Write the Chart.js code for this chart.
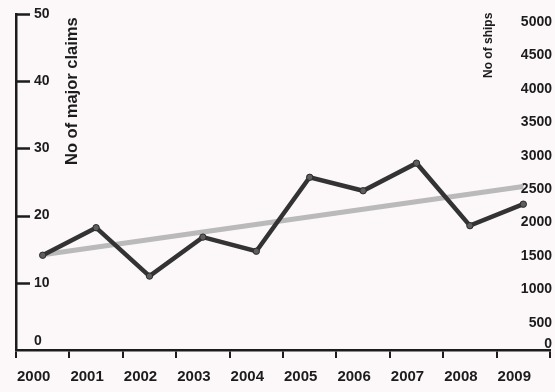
<!DOCTYPE html>
<html>
<head>
<meta charset="utf-8">
<script src="https://cdn.jsdelivr.net/npm/chart.js@4"></script>
<style>
  html, body { margin: 0; padding: 0; background: #fcf8f9; }
  #c { display: block; }
</style>
</head>
<body>
<canvas id="c" width="555" height="392"></canvas>
<script>
// Years on the horizontal axis
const years = ['2000', '2001', '2002', '2003', '2004', '2005', '2006', '2007', '2008', '2009'];
// Number of major claims per year (left axis)
const majorClaims = [14.1, 18.2, 11.0, 16.8, 14.7, 25.7, 23.7, 27.8, 18.5, 21.7];
// Number of ships (right axis): trend from 2000 to 2009
const ships = [1520, null, null, null, null, null, null, null, null, 2540];
// Tick labels
const claimTicks = [0, 10, 20, 30, 40, 50];
const shipTicks = [0, 500, 1000, 1500, 2000, 2500, 3000, 3500, 4000, 4500, 5000];

const BG = '#fcf8f9';
const INK = '#1c1c1c';
const SANS = '"Liberation Sans", Arial, Helvetica, sans-serif';

// Inward tick marks on the claims axis and the two rotated axis titles
const axisDecor = {
  id: 'axisDecor',
  afterDraw(chart) {
    const ctx = chart.ctx;
    const area = chart.chartArea;
    const yl = chart.scales.yClaims;
    ctx.save();
    ctx.strokeStyle = INK;
    ctx.lineWidth = 2.5;
    claimTicks.forEach(v => {
      if (v === 0) return;
      const y = Math.round(yl.getPixelForValue(v)) + 0.5;
      ctx.beginPath();
      ctx.moveTo(area.left - 1, y);
      ctx.lineTo(area.left + 14, y);
      ctx.stroke();
    });

    ctx.fillStyle = INK;
    ctx.textAlign = 'left';
    ctx.textBaseline = 'middle';

    ctx.save();
    ctx.translate(72, 165);
    ctx.rotate(-Math.PI / 2);
    ctx.font = 'bold 16.5px ' + SANS;
    ctx.fillText('No of major claims', 0, 0);
    ctx.restore();

    ctx.save();
    ctx.translate(489, 78);
    ctx.rotate(-Math.PI / 2);
    ctx.font = 'bold 12px ' + SANS;
    ctx.fillText('No of ships', 0, 0);
    ctx.restore();

    ctx.restore();
  }
};

new Chart(document.getElementById('c'), {
  type: 'line',
  data: {
    labels: years,
    datasets: [
      {
        label: 'No of major claims',
        data: majorClaims,
        yAxisID: 'yClaims',
        borderColor: '#333333',
        borderWidth: 4.5,
        borderJoinStyle: 'miter',
        tension: 0,
        pointRadius: 3.2,
        pointBackgroundColor: '#5e5e5e',
        pointBorderColor: '#2a2a2a',
        pointBorderWidth: 1,
        clip: false
      },
      {
        label: 'No of ships',
        data: ships,
        yAxisID: 'yShips',
        borderColor: '#bababa',
        borderWidth: 5,
        pointRadius: 0,
        spanGaps: true,
        tension: 0,
        clip: false
      }
    ]
  },
  options: {
    responsive: false,
    animation: false,
    events: [],
    layout: { padding: { left: 16, right: 2, top: 14, bottom: 6 } },
    plugins: { legend: { display: false }, tooltip: { enabled: false } },
    scales: {
      x: {
        type: 'category',
        offset: true,
        afterFit: s => { s.paddingLeft = 0; s.paddingRight = 0; s.height = 36; },
        grid: { offset: true, drawOnChartArea: false, drawTicks: true, tickLength: 8, color: INK, lineWidth: 2 },
        border: { display: true, color: INK, width: 2.5 },
        ticks: {
          color: INK,
          font: { family: SANS, weight: 'bold', size: 15 },
          padding: 10,
          labelOffset: -9,
          maxRotation: 0,
          autoSkip: false
        }
      },
      yClaims: {
        position: 'left',
        min: 0,
        max: 50,
        afterBuildTicks: s => { s.ticks = claimTicks.map(v => ({ value: v })); },
        afterFit: s => { s.width = 0; s.paddingTop = 0; s.paddingBottom = 0; },
        grid: { drawOnChartArea: false, drawTicks: false },
        border: { display: true, color: INK, width: 2.5 },
        ticks: {
          mirror: true,
          padding: 18,
          autoSkip: false,
          color: INK,
          font: { family: SANS, weight: 'bold', size: 14, lineHeight: '18px' },
          callback: v => (v === 0 ? ['0', ''] : String(v))
        }
      },
      yShips: {
        position: 'right',
        min: 96,
        max: 5119,
        z: 1,
        afterBuildTicks: s => { s.ticks = shipTicks.map(v => ({ value: v })); },
        afterFit: s => { s.width = 0; s.paddingTop = 0; s.paddingBottom = 0; },
        grid: { drawOnChartArea: false, drawTicks: false },
        border: { display: false },
        ticks: {
          mirror: true,
          padding: 2,
          autoSkip: false,
          color: INK,
          font: ctx => ({ family: SANS, weight: 'bold', size: 14, lineHeight: ctx.tick && ctx.tick.value === 0 ? '25px' : '17px' }),
          showLabelBackdrop: ctx => !!ctx.tick && ctx.tick.value !== 0,
          backdropColor: BG,
          backdropPadding: 1,
          callback: v => (v === 0 ? ['0', ''] : String(v))
        }
      }
    }
  },
  plugins: [axisDecor]
});
</script>
</body>
</html>
